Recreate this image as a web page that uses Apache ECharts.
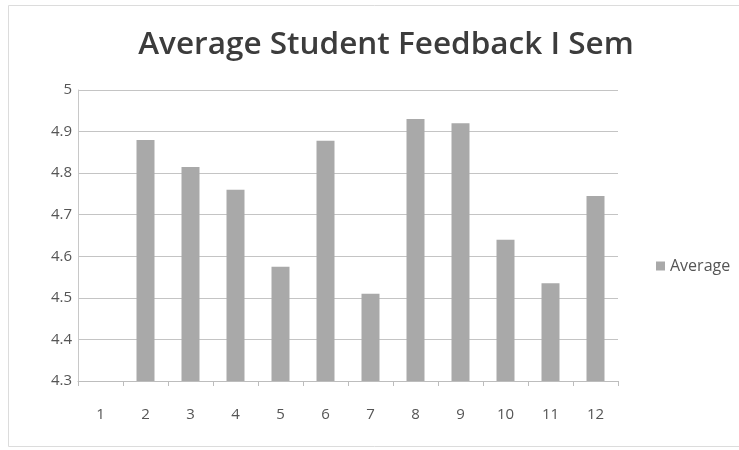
<!DOCTYPE html>
<html>
<head>
<meta charset="utf-8">
<script src="https://cdn.jsdelivr.net/npm/echarts@6/dist/echarts.min.js"></script>
<style>
  html, body { margin: 0; padding: 0; background: #fff; }
  #chart { width: 739px; height: 450px; }
</style>
</head>
<body>
<div id="chart"></div>
<script>
// Semester feedback averages per course number
const categories = ['1', '2', '3', '4', '5', '6', '7', '8', '9', '10', '11', '12'];
const averages = [null, 4.88, 4.815, 4.76, 4.575, 4.878, 4.51, 4.93, 4.92, 4.64, 4.535, 4.745];
const yTicks = { min: 4.3, max: 5, step: 0.1 };

const chart = echarts.init(document.getElementById('chart'));
chart.setOption({
  backgroundColor: '#fff',
  animation: false,
  // faint frame around the whole chart area
  graphic: [{
    type: 'rect',
    shape: { x: 8.5, y: 5.5, width: 740, height: 441 },
    style: { fill: 'none', stroke: '#dcdcdc', lineWidth: 1 },
    silent: true
  }],
  title: {
    text: 'Average Student Feedback I Sem',
    left: 381,
    top: 24,
    textAlign: 'center',
    textStyle: {
      fontFamily: 'Open Sans',
      fontWeight: 600,
      fontSize: 31.5,
      color: '#3c3c3c'
    }
  },
  legend: {
    data: ['Average'],
    orient: 'vertical',
    left: 651,
    top: 253,
    itemWidth: 9,
    itemHeight: 9,
    itemGap: 6,
    icon: 'rect',
    textStyle: { fontFamily: 'Open Sans', fontSize: 16, color: '#555' }
  },
  grid: { left: 78, right: 121, top: 90, bottom: 69, containLabel: false },
  xAxis: {
    type: 'category',
    data: categories,
    axisLine: { lineStyle: { color: '#bdbdbd' } },
    axisTick: { show: true, length: 5, lineStyle: { color: '#bdbdbd' } },
    axisLabel: { margin: 26, fontFamily: 'Open Sans', fontSize: 15, color: '#555' }
  },
  yAxis: {
    type: 'value',
    min: yTicks.min,
    max: yTicks.max,
    interval: yTicks.step,
    axisLine: { show: true, lineStyle: { color: '#c8c8c8' } },
    axisTick: { show: false },
    splitLine: { lineStyle: { color: '#c4c4c4' } },
    axisLabel: {
      margin: 6,
      fontFamily: 'Open Sans',
      fontSize: 15,
      color: '#555',
      formatter: v => String(Math.round(v * 10) / 10)
    }
  },
  series: [{
    name: 'Average',
    type: 'bar',
    data: averages,
    barWidth: 18,
    itemStyle: { color: '#a9a9a9' }
  }]
});
</script>
</body>
</html>
